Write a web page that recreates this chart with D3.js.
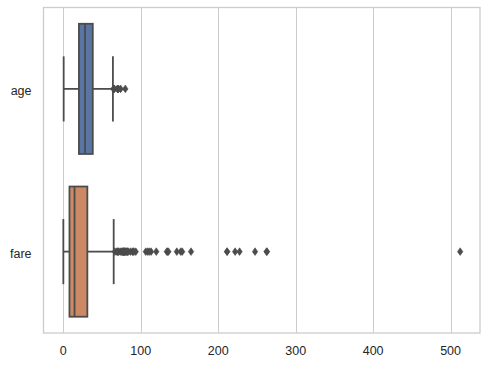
<!DOCTYPE html>
<html><head><meta charset="utf-8">
<script src="https://cdn.jsdelivr.net/npm/d3@7"></script>
<style>body{margin:0;background:#fff}svg{display:block}</style>
</head><body>
<svg id="c" width="488" height="366"></svg>
<script>
const categories = ["age", "fare"];
const colors = ["#5875a4", "#cc8963"];
// box stats: [whiskerLow, q1, median, q3, whiskerHigh]
const ageStats = [0.42, 20.125, 28, 38, 64];
const fareStats = [0, 7.9104, 14.4542, 31, 65];
const ageOutliers = [65, 65, 65, 66, 70, 70, 70.5, 71, 71, 74, 80];
const fareOutliers = [66.6, 69.3, 69.55, 71, 71.2833, 73.5, 75.25, 76.2917, 76.7292, 77.2875, 77.9583, 78.2667, 78.85, 79.2, 79.65, 80, 81.8583, 82.1708, 83.1583, 83.475, 86.5, 89.1042, 90, 91.0792, 93.5, 106.425, 108.9, 110.8833, 113.275, 120, 133.65, 134.5, 135.6333, 146.5208, 151.55, 153.4625, 164.8667, 211.3375, 211.5, 221.7792, 227.525, 247.5208, 262.375, 263, 512.3292];
const xTicks = [0, 100, 200, 300, 400, 500];

const stats = [ageStats, fareStats];
const outliers = [ageOutliers, fareOutliers];

const svg = d3.select("#c");
const L = 43.5, R = 480, T = 7.5, B = 333;
const x = d3.scaleLinear().domain([-25.62, 537.95]).range([L, R]);
const y = d3.scaleBand().domain(categories).range([T, B]);
const grey = "#4c4c4c";
const font = "'Liberation Sans', Arial, sans-serif";

// gridlines
svg.append("g").selectAll("line").data(xTicks).join("line")
  .attr("x1", d => Math.round(x(d)) + 0.5).attr("x2", d => Math.round(x(d)) + 0.5)
  .attr("y1", T).attr("y2", B)
  .attr("stroke", "#cccccc").attr("stroke-width", 1);

// frame
svg.append("rect").attr("x", L).attr("y", T).attr("width", R - L).attr("height", B - T)
  .attr("fill", "none").attr("stroke", "#cccccc").attr("stroke-width", 1.3);

// x tick labels
svg.append("g").selectAll("text").data(xTicks).join("text")
  .attr("x", d => x(d)).attr("y", 355)
  .attr("text-anchor", "middle").attr("font-family", font).attr("font-size", 12.5)
  .attr("fill", "#262626").text(d => d);

// y tick labels
svg.append("g").selectAll("text").data(categories).join("text")
  .attr("x", L - 12).attr("y", d => y(d) + y.bandwidth() / 2 + 2)
  .attr("dy", "0.35em")
  .attr("text-anchor", "end").attr("font-family", font).attr("font-size", 12.5)
  .attr("fill", "#262626").text(d => d);

const bw = y.bandwidth() * 0.8;
categories.forEach((c, i) => {
  const s = stats[i];
  const cy = y(c) + y.bandwidth() / 2;
  const g = svg.append("g");
  // whiskers
  g.append("line").attr("x1", x(s[0])).attr("x2", x(s[1])).attr("y1", cy).attr("y2", cy)
    .attr("stroke", grey).attr("stroke-width", 1.8);
  g.append("line").attr("x1", x(s[3])).attr("x2", x(s[4])).attr("y1", cy).attr("y2", cy)
    .attr("stroke", grey).attr("stroke-width", 1.8);
  // caps
  [s[0], s[4]].forEach(v => {
    g.append("line").attr("x1", x(v)).attr("x2", x(v))
      .attr("y1", cy - bw / 4).attr("y2", cy + bw / 4)
      .attr("stroke", grey).attr("stroke-width", 1.8);
  });
  // box
  g.append("rect").attr("x", x(s[1])).attr("y", cy - bw / 2)
    .attr("width", x(s[3]) - x(s[1])).attr("height", bw)
    .attr("fill", colors[i]).attr("stroke", grey).attr("stroke-width", 1.8);
  // median
  g.append("line").attr("x1", x(s[2])).attr("x2", x(s[2]))
    .attr("y1", cy - bw / 2).attr("y2", cy + bw / 2)
    .attr("stroke", grey).attr("stroke-width", 1.8);
  // outliers (thin diamonds)
  g.selectAll("path").data(outliers[i]).join("path")
    .attr("d", d => {
      const px = x(d), hw = 2.7, hh = 3.8;
      return `M${px},${cy - hh}L${px + hw},${cy}L${px},${cy + hh}L${px - hw},${cy}Z`;
    })
    .attr("fill", grey).attr("stroke", grey).attr("stroke-width", 0.6);
});
</script>
</body></html>
